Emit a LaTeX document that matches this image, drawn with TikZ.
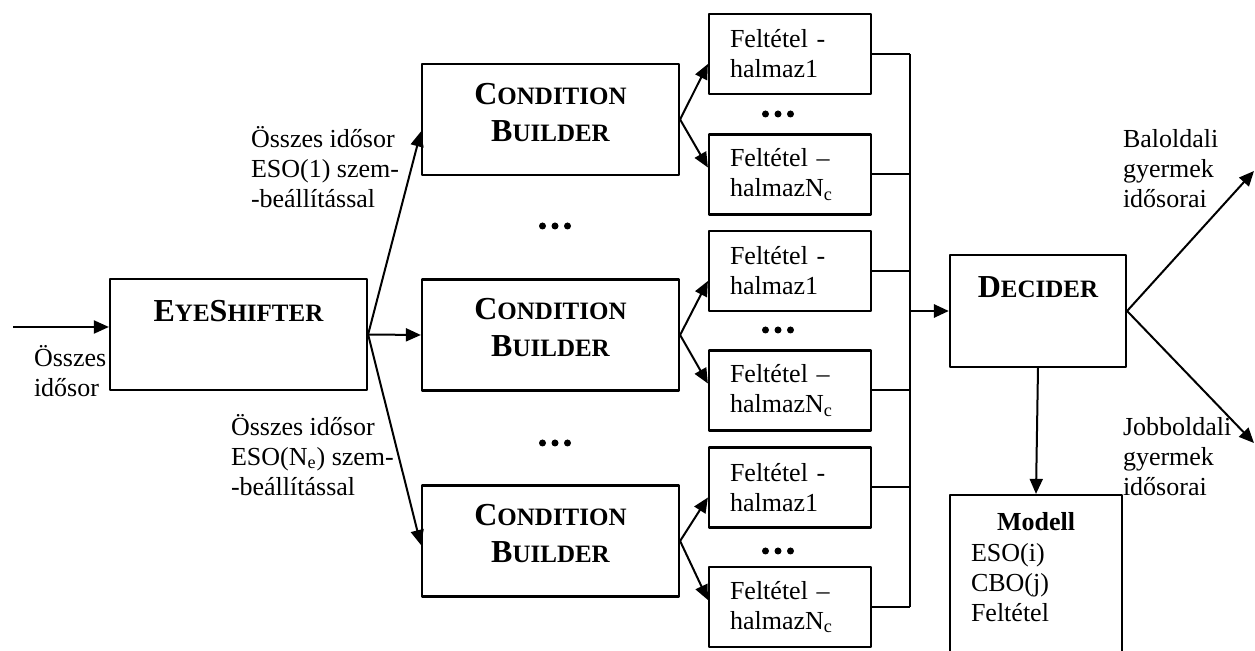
\documentclass[tikz,border=0pt]{standalone}
\usepackage{fontspec}
\setmainfont{Liberation Serif}
\usetikzlibrary{arrows.meta}
\newcommand\capword[2]{{\fontsize{16}{18.5}\selectfont #1}{\fontsize{12.5}{18.5}\selectfont #2}}
\begin{document}
\begin{tikzpicture}[x=.5pt,y=-.5pt, line width=1pt, line join=round, >={Triangle[length=7.5pt,width=6.5pt]},
	font=\fontsize{13}{15}\selectfont,
	box/.style={draw, line width=1.1pt, inner sep=0pt},
	bigbox/.style={box, minimum width=128.5pt, minimum height=55.5pt},
	setbox/.style={box, minimum width=81pt, minimum height=40pt, text width=60pt, align=left},
	ttl/.style={font=\fontsize{16}{18.5}\selectfont\bfseries, align=center, inner sep=0pt},
	lbl/.style={align=left, anchor=west, inner sep=0pt}]
	\useasboundingbox (0,0) rectangle (1255,651);
	\clip (0,0) rectangle (1255,651);
	\node[bigbox] (eye) at (238.5,334.5) {};
	\node[ttl] (eye-t) at ([yshift=-16.5pt]eye.north) {\capword{E}{YE}\capword{S}{HIFTER}};
	\node[bigbox] (cb1) at (550.5,119.5) {};
	\node[bigbox] (cb2) at (550.5,335) {};
	\node[bigbox] (cb3) at (550.5,541) {};
	\foreach \b in {cb1,cb2,cb3}
		\node[ttl] (\b-t) at ([yshift=-24.75pt]\b.north) {\capword{C}{ONDITION}\\\capword{B}{UILDER}};
	\foreach \i/\y in {1/54,3/271,5/487.5}
		\node[setbox] (f\i) at (790,\y) {Feltétel -\\halmaz1};
	\foreach \i/\y in {2/174.5,4/390.5,6/607}
		\node[setbox] (f\i) at (790,\y) {Feltétel –\\halmazN\textsubscript{c}};
	\node[box, minimum width=88pt, minimum height=56pt] (dec) at (1038,311) {};
	\node[ttl] (dec-t) at ([yshift=-16.5pt]dec.north) {\capword{D}{ECIDER}};
	\node[box, minimum width=86pt, minimum height=92.5pt] (mod) at (1036,587.5) {};
	\node[font=\fontsize{13}{15}\selectfont\bfseries, inner sep=0pt] (mod-t) at ([yshift=-14pt]mod.north) {Modell};
	\node[lbl] (mod-b) at (970,583) {ESO(i)\\CBO(j)\\Feltétel};
	\coordinate (inp) at (13,327);
	\coordinate (bus) at (910,0);
	\coordinate (bal) at (1254,171);
	\coordinate (jobb) at (1254,443);
	\draw[->] (inp) -- (inp -| eye.west);
	\draw[->] (eye.east) -- ([yshift=-6pt]cb1.west);
	\draw[->] (eye.east) -- (cb2.west);
	\draw[->] (eye.east) -- ([yshift=-2pt]cb3.west);
	\foreach \c/\a/\b in {cb1/f1/f2,cb2/f3/f4,cb3/f5/f6}{
		\draw[->] (\c.east) -- ([yshift=-5pt]\a.west);
		\draw[->] (\c.east) -- ([yshift=3.5pt]\b.west);
	}
	\foreach \i in {1,...,6}
		\draw (f\i.east) -- (f\i.east -| bus);
	\draw (f1.east -| bus) -- (f6.east -| bus);
	\draw[->, line width=1.4pt] (dec.west -| bus) -- (dec.west);
	\draw[->] (dec.south) -- (mod.north);
	\draw[->] (dec.east) -- (bal);
	\draw[->] (dec.east) -- (jobb);
	\foreach \px/\py in {555/226,555/443,778/114,778/330,778/551}
		\foreach \k in {-1,0,1}
			\fill (\px+12.5*\k,\py) circle (1.75pt);
	\node[lbl] (in-l) at (33,371) {Összes\\idősor};
	\node[lbl] (up-l) at (250,167) {Összes idősor\\ESO(1) szem-\\-beállítással};
	\node[lbl] (dn-l) at (230,455) {Összes idősor\\ESO(N\textsubscript{e}) szem-\\-beállítással};
	\node[lbl] (bal-l) at (1122,169) {Baloldali\\gyermek\\idősorai};
	\node[lbl] (jobb-l) at (1122,457) {Jobboldali\\gyermek\\idősorai};
\end{tikzpicture}
\end{document}
